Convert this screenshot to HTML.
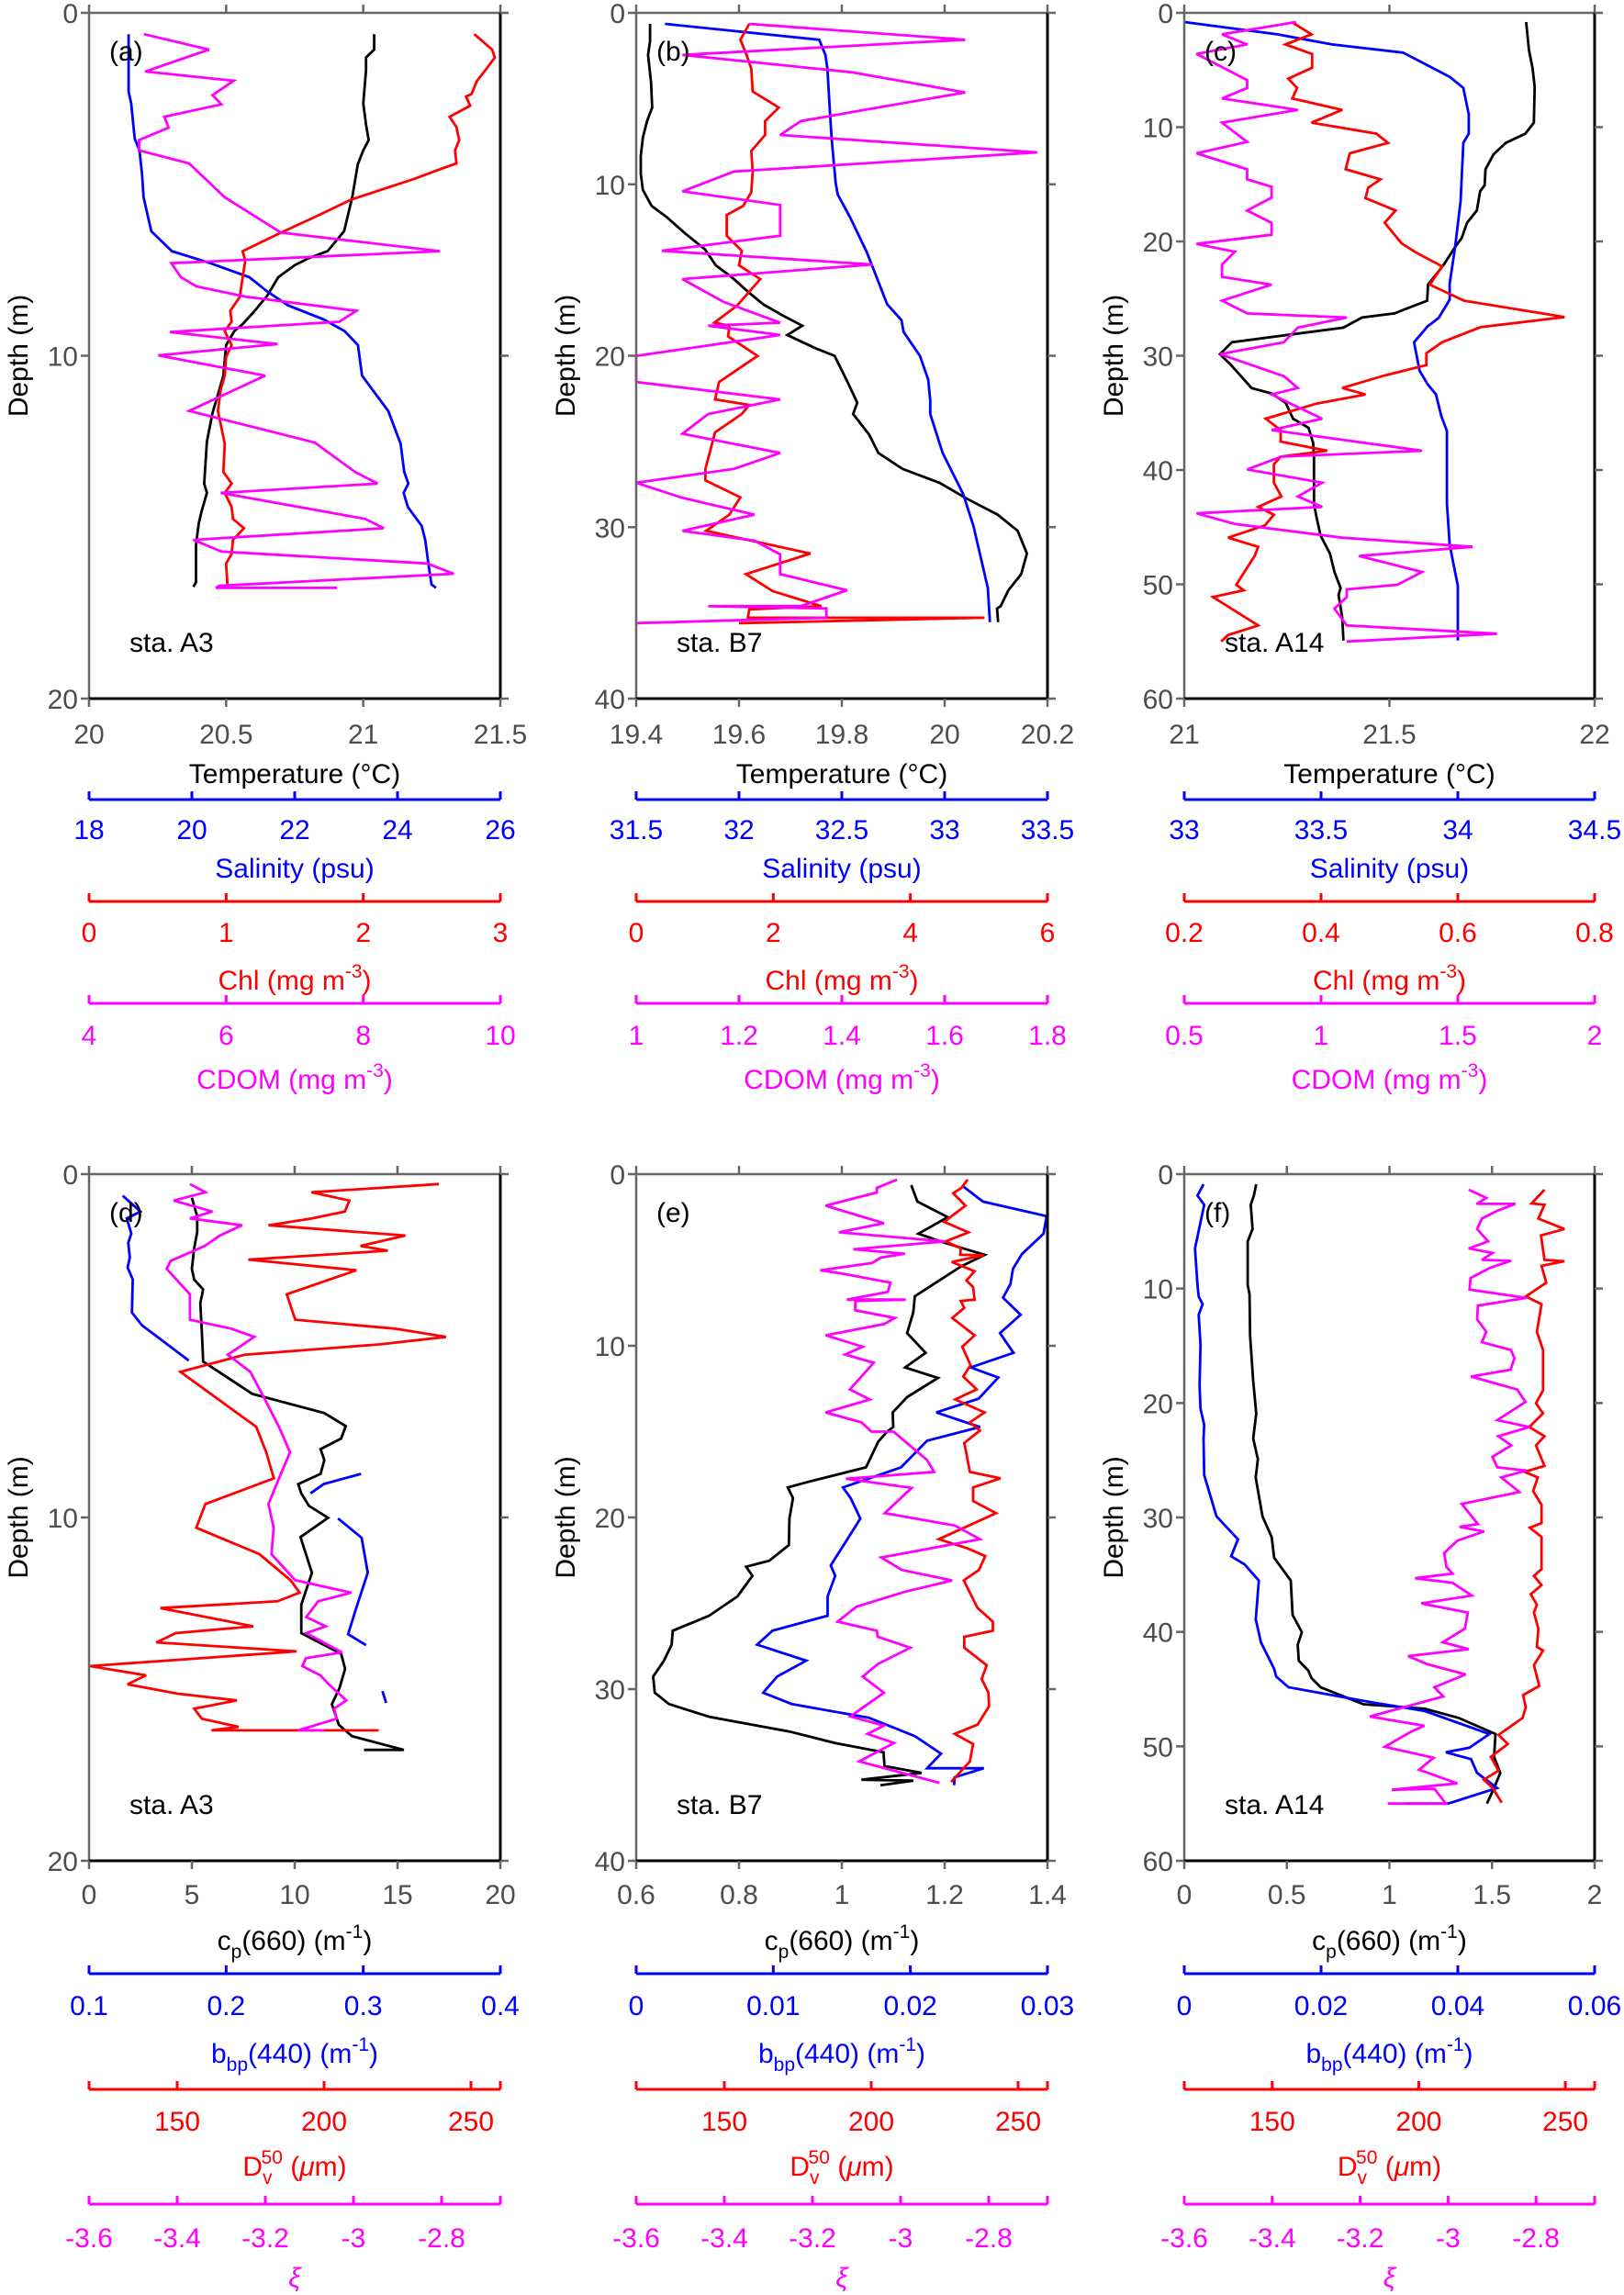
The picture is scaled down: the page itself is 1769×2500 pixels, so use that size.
<!DOCTYPE html>
<html><head><meta charset="utf-8"><title>Vertical profiles</title>
<style>
html,body{margin:0;padding:0;background:#fff;}
svg{display:block;font-family:"Liberation Sans",Arial,sans-serif;}
</style></head>
<body>
<svg id="fig" xmlns="http://www.w3.org/2000/svg" width="1769" height="2500" viewBox="0 0 1769 2500">
<rect x="0" y="0" width="1769" height="2500" fill="#fff"/>
</svg>
<script>
// ---------- Panel (a) sta. A3 ----------
const aTempD=[0.62,1.07,1.30,1.68,2.64,3.26,3.71,4.01,4.42,5.38,6.37,6.95,7.16,7.36,7.71,8.25,8.73,9.08,9.28,9.69,10.58,11.13,11.68,12.50,13.73,14.00,14.55,14.89,15.51,16.61,16.74];
const aTempV=[21.04,21.04,21.01,21.01,21.00,21.01,21.02,21.00,20.98,20.96,20.93,20.87,20.80,20.75,20.69,20.65,20.60,20.56,20.53,20.50,20.49,20.47,20.45,20.43,20.42,20.43,20.41,20.40,20.39,20.39,20.38];
const aSalD=[0.62,2.30,2.64,3.26,3.67,4.01,4.70,5.38,6.37,6.95,7.30,7.71,8.12,8.53,8.94,9.28,9.69,10.58,11.13,11.61,12.57,13.39,13.73,14.00,14.41,14.96,15.37,16.06,16.67,16.77];
const aSalV=[18.77,18.77,18.82,18.86,18.89,18.98,19.03,19.06,19.21,19.61,20.36,21.12,21.46,21.87,22.56,22.97,23.23,23.31,23.58,23.82,24.06,24.13,24.21,24.12,24.20,24.47,24.54,24.60,24.66,24.75];
const aChlD=[0.62,1.07,1.30,1.68,1.98,2.37,2.44,2.71,3.03,3.33,3.71,4.01,4.39,4.59,4.83,5.45,5.93,6.41,6.95,7.23,7.71,8.28,8.69,9.01,9.28,9.69,10.03,10.58,10.99,11.61,12.57,13.39,13.73,14.00,14.41,14.76,15.03,15.37,15.78,16.06,16.71];
const aChlV=[2.81,2.94,2.96,2.89,2.83,2.79,2.75,2.78,2.63,2.68,2.70,2.67,2.68,2.54,2.38,1.91,1.66,1.40,1.12,1.14,1.12,1.10,1.03,1.04,0.99,1.04,1.00,0.99,0.96,0.94,0.99,0.98,1.04,0.99,1.04,1.05,1.13,1.05,1.04,1.00,1.01];
const aCdomD=[0.62,1.07,1.71,1.98,2.40,2.67,3.03,3.35,3.71,4.01,4.39,5.38,6.41,6.95,7.30,7.71,7.98,8.28,8.69,9.01,9.31,9.66,9.99,10.58,11.61,12.53,13.39,13.73,14.00,14.76,15.03,15.37,15.71,16.06,16.36,16.71,16.77,16.77];
const aCdomV=[4.80,5.75,4.82,6.11,5.80,5.93,5.10,5.16,4.73,4.73,5.46,5.98,6.80,9.12,5.20,5.34,5.57,6.29,7.90,7.65,5.18,6.75,5.01,6.57,5.46,7.29,7.88,8.21,5.92,8.03,8.30,5.52,5.93,8.93,9.32,5.90,5.85,7.62];
// ---------- Panel (b) sta. B7 ----------
const bTempD=[0.64,1.65,2.45,4.06,5.52,6.32,7.26,8.33,9.39,10.33,11.26,11.93,12.86,13.80,14.73,15.40,16.33,17.00,17.67,18.25,18.79,19.53,20.01,21.53,22.74,23.40,24.60,25.67,26.60,27.41,28.34,29.27,30.21,31.54,32.74,33.68,34.61,34.74,35.54];
const bTempV=[19.427,19.427,19.423,19.429,19.431,19.421,19.413,19.409,19.409,19.413,19.430,19.460,19.495,19.534,19.555,19.585,19.620,19.647,19.686,19.723,19.694,19.746,19.786,19.811,19.830,19.822,19.853,19.871,19.918,19.990,20.043,20.103,20.142,20.160,20.149,20.124,20.109,20.102,20.104];
const bSalD=[0.64,1.57,2.45,3.26,5.39,7.26,8.59,9.93,10.59,11.93,13.93,15.13,16.99,17.93,18.60,20.01,21.40,22.60,23.40,25.67,28.07,29.94,33.54,35.54];
const bSalV=[31.64,32.39,32.42,32.43,32.44,32.45,32.46,32.47,32.48,32.54,32.62,32.66,32.72,32.79,32.80,32.88,32.92,32.93,32.93,32.99,33.09,33.14,33.21,33.22];
const bChlD=[0.64,1.57,2.45,3.26,4.59,5.52,6.32,7.12,8.06,9.26,10.46,11.26,11.79,13.00,13.88,14.73,15.53,17.08,18.07,18.25,18.87,20.01,21.53,22.55,22.87,23.40,24.47,26.60,27.27,28.26,29.27,30.21,31.54,32.74,33.73,34.61,34.80,35.28,35.28,35.60];
const bChlV=[1.65,1.52,1.61,1.68,1.70,2.08,1.88,1.88,1.68,1.70,1.68,1.56,1.32,1.32,1.54,1.50,1.81,1.47,1.14,1.36,1.34,1.77,1.21,1.15,1.65,1.54,1.15,1.01,1.01,1.52,1.36,1.02,2.54,1.60,1.99,2.70,1.65,1.63,5.08,1.50];
const bCdomD=[0.64,1.57,2.45,3.47,4.64,5.52,6.32,7.12,8.14,9.26,10.41,11.21,13.00,13.88,14.68,15.53,16.86,18.07,18.25,18.79,20.01,21.53,22.55,23.40,24.55,25.67,26.60,27.41,28.29,29.27,30.21,30.79,31.59,32.74,33.68,34.61,34.61,34.74,35.28,35.60];
const bCdomV=[1.22,1.64,1.09,1.42,1.64,1.47,1.32,1.28,1.78,1.19,1.09,1.28,1.28,1.05,1.46,1.09,1.17,1.28,1.14,1.28,1.00,1.00,1.28,1.14,1.09,1.28,1.19,1.00,1.09,1.23,1.09,1.23,1.28,1.28,1.41,1.32,1.14,1.37,1.37,1.00];
// ---------- Panel (c) sta. A14 ----------
const cTempD=[0.80,3.28,4.88,6.49,9.61,10.57,11.37,12.37,13.69,15.09,15.61,17.29,18.37,19.70,20.50,22.10,23.78,25.18,26.30,26.66,27.54,28.82,29.86,30.90,32.83,33.31,34.11,35.51,36.31,37.63,38.91,42.91,43.91,45.72,47.32,48.92,50.32,50.92,52.92,54.92];
const cTempV=[21.833,21.840,21.849,21.854,21.852,21.831,21.784,21.754,21.734,21.732,21.721,21.713,21.689,21.676,21.660,21.631,21.594,21.592,21.512,21.433,21.388,21.116,21.087,21.116,21.164,21.213,21.247,21.265,21.303,21.314,21.316,21.316,21.321,21.332,21.355,21.366,21.381,21.376,21.385,21.388];
const cSalD=[0.80,1.88,2.76,3.48,5.60,6.57,8.89,10.57,11.37,16.49,20.50,23.70,25.10,26.30,26.70,27.42,28.82,31.31,32.51,33.39,35.31,36.59,42.91,46.52,48.92,50.12,54.92];
const cSalV=[33.00,33.34,33.54,33.80,33.97,34.02,34.04,34.04,34.02,34.01,33.99,33.97,33.97,33.94,33.93,33.89,33.84,33.86,33.89,33.92,33.94,33.96,33.96,33.97,33.99,34.00,34.00];
const cChlD=[0.80,1.88,2.76,3.60,4.80,5.76,6.57,7.49,8.49,9.61,10.57,11.37,12.29,13.69,14.57,15.29,16.21,17.29,18.37,20.18,20.98,22.18,23.78,25.18,26.62,27.50,28.82,29.78,30.82,31.79,32.83,33.39,34.19,35.51,36.51,37.51,38.31,38.83,39.51,41.11,42.31,43.23,43.91,44.84,45.92,46.72,47.52,50.04,50.52,51.12,53.60,54.44,55.00];
const cChlV=[0.357,0.386,0.348,0.387,0.387,0.352,0.365,0.358,0.431,0.386,0.481,0.498,0.442,0.436,0.487,0.469,0.465,0.509,0.493,0.518,0.539,0.577,0.559,0.609,0.756,0.633,0.577,0.554,0.554,0.489,0.431,0.465,0.393,0.319,0.341,0.341,0.409,0.341,0.331,0.331,0.342,0.308,0.331,0.318,0.264,0.308,0.303,0.276,0.287,0.242,0.308,0.264,0.254];
const cCdomD=[0.80,1.88,2.76,3.60,5.88,6.57,7.49,8.49,9.61,11.29,12.29,13.69,14.57,15.21,16.17,17.29,18.37,19.41,20.22,20.90,22.02,23.10,23.78,25.18,26.30,26.66,27.54,28.82,29.86,31.79,32.83,33.39,35.51,36.51,38.31,38.83,39.95,41.11,42.31,43.23,43.79,44.72,45.92,46.72,47.52,48.92,50.04,50.44,51.12,52.12,53.60,54.32,55.00];
const cCdomV=[0.909,0.638,0.730,0.545,0.730,0.730,0.638,0.915,0.638,0.730,0.545,0.730,0.730,0.819,0.819,0.730,0.819,0.819,0.545,0.685,0.638,0.638,0.819,0.638,0.730,1.094,0.915,0.864,0.631,0.864,0.915,0.819,1.004,0.819,1.369,0.855,0.730,1.004,0.915,1.004,0.545,0.685,1.077,1.554,1.139,1.369,1.279,1.094,1.094,1.049,1.094,1.643,1.094];
// ---------- Panel (d) sta. A3 ----------
const dCpD=[0.69,1.23,1.69,2.16,2.76,3.07,3.36,3.76,4.56,5.46,6.40,6.96,7.34,7.70,8.01,8.33,8.73,9.03,9.30,9.66,10.01,10.57,11.61,12.54,13.37,13.97,14.41,14.97,15.44,16.04,16.37,16.77,16.77];
const dCpV=[5.00,5.26,5.26,5.11,5.00,5.11,5.55,5.41,5.48,5.55,7.94,11.44,12.48,12.26,11.26,11.44,11.26,10.17,10.32,10.69,11.62,10.28,10.84,10.32,10.32,12.26,12.45,12.18,11.81,12.15,12.78,15.31,13.37];
const dBbpD=[0.63,1.09,1.29,1.73,2.00,2.43,2.72,3.07,4.03,4.40,5.43,null,9.30,9.03,8.73,null,10.03,10.59,11.61,12.70,13.40,13.72,null,15.06,15.40];
const dBbpV=[0.1246,0.1375,0.1275,0.1308,0.1286,0.1297,0.1281,0.1319,0.1313,0.1386,0.1728,null,0.2615,0.2711,0.2984,null,0.2816,0.2988,0.3033,0.2944,0.2890,0.3020,null,0.3140,0.3167];
const dD50D=[0.29,0.53,0.77,1.09,1.29,1.49,1.79,2.09,2.23,2.49,2.80,3.50,4.24,4.50,4.74,4.96,5.26,5.76,7.36,8.10,8.86,9.61,10.30,11.07,11.83,12.19,12.44,12.64,13.17,13.37,13.64,13.90,14.33,14.60,14.86,15.13,15.33,15.57,15.86,16.10,16.20,16.20];
const dD50V=[239.1,195.7,208.6,207.1,195.9,181.1,227.7,212.4,221.7,174.2,211.0,187.3,190.2,224.0,241.5,218.8,173.0,151.1,176.9,180.3,182.9,159.6,156.5,178.0,188.6,191.7,184.2,144.3,175.9,149.5,142.9,190.7,120.3,139.4,133.1,150.0,170.3,155.8,158.4,170.9,161.7,218.6];
const dXiD=[0.29,0.53,0.77,1.09,1.29,1.49,1.79,2.09,2.53,2.76,3.50,4.24,4.50,4.74,5.26,5.76,6.46,7.36,8.10,8.86,9.61,10.30,11.07,11.83,12.19,12.44,12.90,13.17,13.37,13.93,14.10,14.33,14.60,14.86,15.33,15.57,15.86,16.20,16.20];
const dXiV=[-3.371,-3.336,-3.408,-3.320,-3.371,-3.253,-3.303,-3.337,-3.415,-3.424,-3.371,-3.371,-3.278,-3.225,-3.285,-3.234,-3.205,-3.169,-3.144,-3.169,-3.193,-3.181,-3.186,-3.132,-3.005,-3.080,-3.107,-3.063,-3.107,-3.026,-3.108,-3.116,-3.075,-3.056,-3.016,-3.044,-3.038,-3.125,-3.066];
// ---------- Panel (e) sta. B7 ----------
const eCpD=[0.64,1.60,2.51,3.47,4.00,4.70,5.39,6.32,7.12,8.06,9.26,10.41,11.26,11.87,12.99,13.88,14.73,15.00,15.58,17.08,17.93,18.25,18.87,20.07,21.61,22.52,22.87,23.40,24.60,25.72,26.60,27.41,28.34,29.27,30.21,30.87,31.62,32.47,33.14,33.68,34.48,34.88,35.28,35.33,35.60];
const eCpV=[1.135,1.147,1.206,1.149,1.200,1.278,1.231,1.183,1.142,1.139,1.127,1.163,1.123,1.187,1.127,1.099,1.100,1.088,1.071,1.047,0.934,0.895,0.905,0.898,0.897,0.859,0.814,0.826,0.797,0.742,0.671,0.669,0.654,0.633,0.636,0.664,0.743,0.898,0.987,1.081,1.083,1.155,1.038,1.139,1.075];
const eBbpD=[0.72,1.60,2.45,3.47,4.64,5.52,6.40,7.20,8.19,9.26,10.41,11.26,11.85,13.08,13.88,14.73,15.53,17.08,18.25,18.87,20.07,22.79,23.40,24.60,25.72,26.60,27.41,28.34,29.27,30.21,30.87,31.67,32.74,33.76,34.61,34.61,35.14,35.60];
const eBbpV=[0.02386,0.02529,0.02994,0.02971,0.02815,0.02748,0.02730,0.02676,0.02804,0.02654,0.02752,0.02440,0.02641,0.02498,0.02189,0.02507,0.02122,0.01932,0.01508,0.01564,0.01635,0.01419,0.01452,0.01396,0.01396,0.00994,0.00882,0.01240,0.01028,0.00927,0.01135,0.01698,0.02033,0.02223,0.02122,0.02536,0.02323,0.02319];
const eD50D=[0.32,0.80,1.12,1.84,2.78,3.39,3.92,4.32,4.70,4.72,5.12,5.66,6.19,6.59,7.31,7.39,7.79,8.38,9.39,10.06,11.13,11.79,12.54,13.13,13.88,14.46,14.94,15.66,17.35,17.72,18.25,19.05,19.75,21.27,21.80,22.25,23.06,23.67,25.27,26.07,26.60,26.95,27.59,28.61,29.41,30.21,31.01,32.07,32.61,33.20,34.21,35.41];
const eD50V=[232.8,230.7,227.9,232.1,224.8,233.1,225.3,230.5,230.3,238.3,227.4,235.2,232.4,234.7,235.2,230.5,231.7,227.6,235.2,231.0,233.8,231.3,235.9,228.6,238.6,233.6,237.0,231.7,233.6,244.0,234.7,234.7,242.5,223.0,232.8,238.8,236.7,231.5,236.2,241.4,241.4,231.7,231.7,239.3,237.6,239.9,240.1,236.2,228.4,234.7,233.6,227.2];
const eXiD=[0.32,0.80,1.07,1.84,2.86,3.39,3.92,4.38,4.64,4.86,5.18,5.60,5.79,6.32,6.86,7.31,7.31,7.39,7.93,8.38,8.73,9.39,10.06,10.51,10.99,12.54,13.13,13.88,14.46,15.00,15.00,16.65,17.35,17.75,18.28,19.75,20.47,21.27,22.33,23.06,23.67,24.34,25.19,26.07,26.60,26.95,27.59,28.53,29.27,30.21,31.59,32.13,32.61,33.14,34.21,35.46];
const eXiV=[-3.008,-3.054,-3.054,-3.170,-3.038,-3.140,-2.899,-3.107,-2.990,-3.045,-3.065,-3.182,-3.134,-3.023,-3.029,-3.122,-2.988,-3.103,-3.103,-3.013,-3.037,-3.170,-3.086,-3.126,-3.061,-3.115,-3.070,-3.170,-3.089,-3.066,-3.016,-2.940,-2.924,-3.124,-2.975,-3.036,-2.877,-2.820,-3.044,-2.997,-2.883,-2.992,-3.100,-3.143,-3.054,-3.052,-2.978,-3.051,-3.086,-3.038,-3.114,-3.038,-3.075,-3.015,-3.094,-2.912];
// ---------- Panel (f) sta. A14 ----------
const fCpD=[0.88,1.88,2.68,4.80,5.88,7.29,9.69,10.49,14.09,18.09,20.90,23.10,24.90,26.50,29.90,31.71,33.51,35.51,38.51,40.03,41.11,42.51,43.39,44.04,44.84,46.32,46.72,47.52,48.92,50.92,52.32,53.64,55.00];
const fCpV=[0.351,0.339,0.324,0.333,0.309,0.309,0.309,0.318,0.321,0.336,0.351,0.336,0.359,0.348,0.381,0.426,0.438,0.519,0.528,0.573,0.553,0.558,0.605,0.620,0.665,0.874,1.173,1.338,1.517,1.510,1.540,1.510,1.475];
const fBbpD=[0.88,1.88,2.68,6.49,9.69,10.69,11.37,12.29,14.89,18.49,20.50,21.90,23.10,26.30,29.90,31.91,33.39,34.11,35.51,38.91,40.91,43.23,43.91,44.84,46.12,46.92,48.92,50.12,50.52,51.12,52.32,53.64,55.00,55.00];
const fBbpV=[0.00282,0.00193,0.00291,0.00157,0.00193,0.00211,0.00269,0.00211,0.00238,0.00224,0.00238,0.00291,0.00282,0.00291,0.00471,0.00785,0.00686,0.00883,0.01090,0.01045,0.01121,0.01314,0.01345,0.01525,0.02713,0.03520,0.04462,0.04170,0.03825,0.04193,0.04282,0.04574,0.03856,0.03228];
const fD50D=[1.36,2.56,2.68,3.88,4.80,5.36,7.49,7.61,8.01,9.49,10.69,11.37,13.77,15.37,18.90,20.02,20.90,22.10,22.90,23.70,25.50,26.02,26.50,27.70,28.90,30.50,30.90,31.71,34.51,35.11,35.91,36.71,37.63,38.31,39.71,41.31,41.63,42.91,44.72,45.52,46.60,47.52,49.00,49.80,50.92,52.12,52.92,53.64,54.92];
const fD50V=[242.9,238.5,242.9,240.8,249.7,241.7,242.9,249.7,241.9,243.5,236.5,241.9,240.3,242.4,242.4,240.0,242.4,237.7,242.9,240.0,242.9,236.1,240.6,239.0,241.9,241.9,237.9,241.9,241.9,239.3,241.9,238.2,240.3,239.3,240.8,240.3,242.4,239.3,241.1,235.6,236.5,235.4,227.2,230.4,224.6,227.2,222.2,225.2,228.3];
const fXiD=[1.36,2.08,2.60,2.60,3.20,3.88,4.80,5.88,6.49,6.89,7.49,7.57,8.17,9.09,10.09,10.81,11.49,12.69,13.77,14.69,15.37,16.09,17.09,17.69,18.82,19.90,21.50,22.10,22.90,23.70,24.70,25.62,25.90,26.50,27.78,28.82,30.58,30.82,31.22,32.03,33.11,34.31,34.91,35.31,35.71,36.83,37.51,38.31,39.71,40.91,41.51,42.11,42.83,43.72,44.84,45.64,47.40,48.20,48.72,50.04,51.00,52.04,53.24,53.80,53.72,55.00,55.00];
const fXiV=[-2.953,-2.913,-2.935,-2.847,-2.888,-2.923,-2.934,-2.909,-2.953,-2.899,-2.923,-2.857,-2.904,-2.949,-2.951,-2.822,-2.932,-2.934,-2.913,-2.923,-2.857,-2.849,-2.858,-2.948,-2.843,-2.824,-2.888,-2.815,-2.886,-2.856,-2.899,-2.888,-2.822,-2.879,-2.838,-2.969,-2.932,-2.974,-2.918,-2.979,-3.009,-3.004,-2.990,-3.075,-2.990,-2.946,-3.061,-2.955,-2.962,-3.012,-2.953,-3.091,-3.047,-2.960,-3.031,-3.011,-3.178,-3.054,-3.084,-3.144,-3.033,-3.066,-2.979,-3.128,-3.031,-3.005,-3.137];
// ---------- tick labels ----------
const aDepthTicks=[0,10,20], bDepthTicks=[0,10,20,30,40], cDepthTicks=[0,10,20,30,40,50,60];
const aTempTicks=[20,20.5,21,21.5], aSalTicks=[18,20,22,24,26], aChlTicks=[0,1,2,3], aCdomTicks=[4,6,8,10];
const bTempTicks=[19.4,19.6,19.8,20,20.2], bSalTicks=[31.5,32,32.5,33,33.5], bChlTicks=[0,2,4,6], bCdomTicks=[1,1.2,1.4,1.6,1.8];
const cTempTicks=[21,21.5,22], cSalTicks=[33,33.5,34,34.5], cChlTicks=[0.2,0.4,0.6,0.8], cCdomTicks=[0.5,1,1.5,2];
const dCpTicks=[0,5,10,15,20], dBbpTicks=[0.1,0.2,0.3,0.4];
const eCpTicks=[0.6,0.8,1,1.2,1.4], eBbpTicks=[0,0.01,0.02,0.03];
const fCpTicks=[0,0.5,1,1.5,2], fBbpTicks=[0,0.02,0.04,0.06];
const d50Ticks=[150,200,250], xiTicks=[-3.6,-3.4,-3.2,-3,-2.8];

const NS='http://www.w3.org/2000/svg';
const svg=document.getElementById('fig');
const BLUE='#0000ff', RED='#ff0000', MAG='#ff00ff', GRAY='#4d4d4d';
function mk(tag,attrs,parent){const e=document.createElementNS(NS,tag);for(const k in attrs)e.setAttribute(k,attrs[k]);(parent||svg).appendChild(e);return e;}

const TOP={y0:14,y1:761,prim:[810,853],extra:[[871,914,956],[982,1026,1078],[1093,1138,1186]]};
const BOT={y0:1279,y1:2027,prim:[2074,2124],extra:[[2150,2195,2247],[2276,2321,2370],[2401,2448,2491]]};
const COLS=[[97,545],[693,1141],[1290,1737]];

const TITLES_TOP=['Temperature (°C)','Salinity (psu)','Chl (mg m<tspan dy="-13" font-size="21">-3</tspan><tspan dy="13">)</tspan>','CDOM (mg m<tspan dy="-13" font-size="21">-3</tspan><tspan dy="13">)</tspan>'];
const TITLES_BOT=['c<tspan dy="9" font-size="21">p</tspan><tspan dy="-9">(660) (m</tspan><tspan dy="-13" font-size="21">-1</tspan><tspan dy="13">)</tspan>',
 'b<tspan dy="9" font-size="21">bp</tspan><tspan dy="-9">(440) (m</tspan><tspan dy="-13" font-size="21">-1</tspan><tspan dy="13">)</tspan>',
 'D<tspan dy="9" font-size="21">v</tspan><tspan dx="-12" dy="-22" font-size="21">50</tspan><tspan dy="13"> (</tspan><tspan font-style="italic">μ</tspan>m)',
 '<tspan font-style="italic">ξ</tspan>'];

const panels=[
 {id:'a',row:TOP,col:0,dr:[0,20],dt:aDepthTicks,sta:'sta. A3',titles:TITLES_TOP,
  series:[{n:'temperature',c:'#000',r:[20,21.5],t:aTempTicks,d:aTempD,v:aTempV},{n:'salinity',c:BLUE,r:[18,26],t:aSalTicks,d:aSalD,v:aSalV},{n:'chl',c:RED,r:[0,3],t:aChlTicks,d:aChlD,v:aChlV},{n:'cdom',c:MAG,r:[4,10],t:aCdomTicks,d:aCdomD,v:aCdomV}]},
 {id:'b',row:TOP,col:1,dr:[0,40],dt:bDepthTicks,sta:'sta. B7',titles:TITLES_TOP,
  series:[{n:'temperature',c:'#000',r:[19.4,20.2],t:bTempTicks,d:bTempD,v:bTempV},{n:'salinity',c:BLUE,r:[31.5,33.5],t:bSalTicks,d:bSalD,v:bSalV},{n:'chl',c:RED,r:[0,6],t:bChlTicks,d:bChlD,v:bChlV},{n:'cdom',c:MAG,r:[1,1.8],t:bCdomTicks,d:bCdomD,v:bCdomV}]},
 {id:'c',row:TOP,col:2,dr:[0,60],dt:cDepthTicks,sta:'sta. A14',titles:TITLES_TOP,
  series:[{n:'temperature',c:'#000',r:[21,22],t:cTempTicks,d:cTempD,v:cTempV},{n:'salinity',c:BLUE,r:[33,34.5],t:cSalTicks,d:cSalD,v:cSalV},{n:'chl',c:RED,r:[0.2,0.8],t:cChlTicks,d:cChlD,v:cChlV},{n:'cdom',c:MAG,r:[0.5,2],t:cCdomTicks,d:cCdomD,v:cCdomV}]},
 {id:'d',row:BOT,col:0,dr:[0,20],dt:aDepthTicks,sta:'sta. A3',titles:TITLES_BOT,
  series:[{n:'cp660',c:'#000',r:[0,20],t:dCpTicks,d:dCpD,v:dCpV},{n:'bbp440',c:BLUE,r:[0.1,0.4],t:dBbpTicks,d:dBbpD,v:dBbpV},{n:'d50',c:RED,r:[120,260],t:d50Ticks,d:dD50D,v:dD50V},{n:'xi',c:MAG,r:[-3.6,-2.6667],t:xiTicks,d:dXiD,v:dXiV}]},
 {id:'e',row:BOT,col:1,dr:[0,40],dt:bDepthTicks,sta:'sta. B7',titles:TITLES_BOT,
  series:[{n:'cp660',c:'#000',r:[0.6,1.4],t:eCpTicks,d:eCpD,v:eCpV},{n:'bbp440',c:BLUE,r:[0,0.03],t:eBbpTicks,d:eBbpD,v:eBbpV},{n:'d50',c:RED,r:[120,260],t:d50Ticks,d:eD50D,v:eD50V},{n:'xi',c:MAG,r:[-3.6,-2.6667],t:xiTicks,d:eXiD,v:eXiV}]},
 {id:'f',row:BOT,col:2,dr:[0,60],dt:cDepthTicks,sta:'sta. A14',titles:TITLES_BOT,
  series:[{n:'cp660',c:'#000',r:[0,2],t:fCpTicks,d:fCpD,v:fCpV},{n:'bbp440',c:BLUE,r:[0,0.06],t:fBbpTicks,d:fBbpD,v:fBbpV},{n:'d50',c:RED,r:[120,260],t:d50Ticks,d:fD50D,v:fD50V},{n:'xi',c:MAG,r:[-3.6,-2.6667],t:xiTicks,d:fXiD,v:fXiV}]}
];

function text(parent,x,y,str,fill,anchor,name,size){
  const t=mk('text',{x:x,y:y,fill:fill,'font-size':size||30,'text-anchor':anchor||'middle'},parent);
  t.innerHTML=str;
  
  
  return t;
}

panels.forEach(p=>{
  const g=mk('g',{});
  
  
  const x0=COLS[p.col][0], x1=COLS[p.col][1], y0=p.row.y0, y1=p.row.y1;
  const yS=d=>y0+(d-p.dr[0])/(p.dr[1]-p.dr[0])*(y1-y0);
  const xS=(v,r)=>x0+(v-r[0])/(r[1]-r[0])*(x1-x0);
  const cx=(x0+x1)/2;
  // series
  p.series.forEach(s=>{
    let dstr='', pen=false;
    const n=Math.min(s.d.length,s.v.length);
    for(let i=0;i<n;i++){
      if(s.d[i]===null||s.v[i]===null){pen=false;continue;}
      dstr+=(pen?'L':'M')+xS(s.v[i],s.r).toFixed(1)+' '+yS(s.d[i]).toFixed(1);
      pen=true;
    }
    const path=mk('path',{d:dstr,fill:'none',stroke:s.c,'stroke-width':2.8,'stroke-linejoin':'miter','stroke-miterlimit':3},g);
    
    
  });
  // axes box
  const lt=mk('path',{d:`M${x0} ${y1}L${x0} ${y0}L${x1} ${y0}`,fill:'none',stroke:'#666','stroke-width':2.5},g);
  
  
  const rb=mk('path',{d:`M${x0} ${y1}L${x1} ${y1}L${x1} ${y0}`,fill:'none',stroke:'#000','stroke-width':3},g);
  
  
  // depth ticks
  p.dt.forEach(d=>{
    const y=yS(d);
    const tk=mk('path',{d:`M${x0-9} ${y}L${x0} ${y}M${x1} ${y}L${x1+9} ${y}`,stroke:'#666','stroke-width':2.5},g);
    
    
    text(g,x0-12,y+11,String(d),GRAY,'end','depth-tick-label');
  });
  const yl=text(g,0,0,'Depth (m)','#000','middle','y-axis-title');
  yl.setAttribute('transform',`translate(${x0-67},${(y0+y1)/2}) rotate(-90)`);
  // primary x ticks
  const ps=p.series[0];
  ps.t.forEach(v=>{
    const x=xS(v,ps.r);
    const tk=mk('path',{d:`M${x} ${y0-9}L${x} ${y0}M${x} ${y1}L${x} ${y1+9}`,stroke:'#666','stroke-width':2.5},g);
    
    
    text(g,x,p.row.prim[0],String(v),GRAY,'middle','x-tick-label');
  });
  text(g,cx,p.row.prim[1],p.titles[0],'#000','middle','x-axis-title');
  // extra axes
  for(let k=1;k<4;k++){
    const s=p.series[k], ly=p.row.extra[k-1];
    let dd=`M${x0} ${ly[0]}L${x1} ${ly[0]}M${x0} ${ly[0]-9}L${x0} ${ly[0]}M${x1} ${ly[0]-9}L${x1} ${ly[0]}`;
    s.t.forEach(v=>{const x=xS(v,s.r);dd+=`M${x} ${ly[0]-9}L${x} ${ly[0]}`;});
    const ax=mk('path',{d:dd,fill:'none',stroke:s.c,'stroke-width':3},g);
    
    
    s.t.forEach(v=>{text(g,xS(v,s.r),ly[1],String(v),s.c,'middle',s.n+'-tick-label');});
    text(g,cx,ly[2],p.titles[k],s.c,'middle',s.n+'-axis-title');
  }
  text(g,x0+22,y0+52,'('+p.id+')','#000','start','panel-label');
  text(g,x0+44,y0+(y1-y0)*0.917+11,p.sta,'#000','start','station-label');
});
</script>
</body></html>
